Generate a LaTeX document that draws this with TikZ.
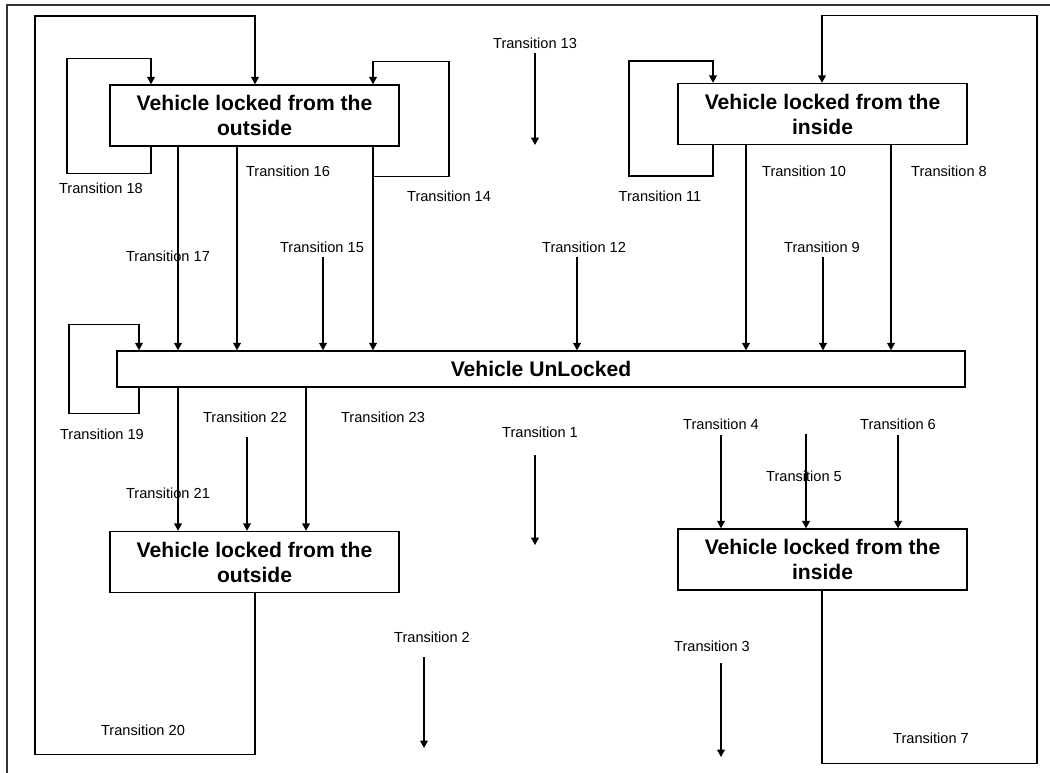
\documentclass[tikz,border=0pt]{standalone}
\usepackage{fontspec}
\setmainfont{Liberation Sans}
\setsansfont{Liberation Sans}
\usetikzlibrary{
  positioning,
  calc,
  arrows.meta}
\definecolor{framecolor}{RGB}{51,51,51}
\tikzset{
  %% state : a state of the vehicle lock
  state/.style={
    rectangle,
    draw=black,
    line width=0.8pt,
    minimum width=5.78cm,
    minimum height=1.22cm,
    inner sep=0pt,
    font=\fontsize{12}{14.2}\selectfont\bfseries,
    align=center
  },
  %% widestate : the unlocked state across the picture
  widestate/.style={
    state,
    minimum width=16.96cm,
    minimum height=0.72cm
  },
  %% trans : the label of a transition
  trans/.style={
    inner sep=1pt,
    font=\fontsize{8.3}{10}\selectfont
  },
  %% connection : a transition line
  connection/.style={
    line width=0.8pt,
    -{Triangle[length=4.2pt,width=4.4pt]}
  },
  %% frame : border of the screenshot
  frame/.style={framecolor, line width=1.3pt}
}

\begin{document}
\begin{tikzpicture}
  [x=0.02cm,
  y=-0.02cm]
  \sffamily
  \useasboundingbox (0,0) rectangle (1050,773);

  %% States
  \node (outside top) [state] at (254.5,115.5) {%
    Vehicle locked from the\\ outside};
  \node (inside top) [state] at (822.5,114) {%
    Vehicle locked from the\\ inside};
  \node (unlocked) [widestate] at (541,369) {%
    Vehicle UnLocked};
  \node (outside bottom) [state] at (254.5,562) {%
    Vehicle locked from the\\ outside};
  \node (inside bottom) [state] at (822.5,559.5) {%
    Vehicle locked from the\\ inside};

  %% Where the lines run
  \coordinate (x7) at (822,0);
  \coordinate (x8) at (891,0);
  \coordinate (x10) at (746,0);
  \coordinate (x11) at (713,0);
  \coordinate (x14) at (373,0);
  \coordinate (x16) at (237,0);
  \coordinate (x17) at (178,0);
  \coordinate (x18) at (151,0);
  \coordinate (x19) at (139,0);
  \coordinate (x20) at (255,0);
  \coordinate (x23) at (306,0);

  %% Free ends
  \coordinate (a1) at (535,455);
  \coordinate (b1) at (535,545);
  \coordinate (a2) at (424,657);
  \coordinate (b2) at (424,748);
  \coordinate (a3) at (721,663);
  \coordinate (b3) at (721,757);
  \coordinate (a4) at (721,435);
  \coordinate (a5) at (806,434);
  \coordinate (a6) at (898,435);
  \coordinate (a9) at (823,257);
  \coordinate (a12) at (577,257);
  \coordinate (a13) at (535,53);
  \coordinate (b13) at (535,145);
  \coordinate (a15) at (323,257);
  \coordinate (a22) at (247,437);

  %% Labels
  \node (t1) [trans] at (540,432) {Transition 1};
  \node (t2) [trans] at (432,637) {Transition 2};
  \node (t3) [trans] at (712,646) {Transition 3};
  \node (t4) [trans] at (721,424) {Transition 4};
  \node (t5) [trans] at (804,476) {Transition 5};
  \node (t6) [trans] at (898,424) {Transition 6};
  \node (t7) [trans] at (931,738) {Transition 7};
  \node (t8) [trans] at (949,171) {Transition 8};
  \node (t9) [trans] at (822,247) {Transition 9};
  \node (t10) [trans] at (804,171) {Transition 10};
  \node (t11) [trans] at (660,196) {Transition 11};
  \node (t12) [trans] at (584,247) {Transition 12};
  \node (t13) [trans] at (535,43) {Transition 13};
  \node (t14) [trans] at (449,196) {Transition 14};
  \node (t15) [trans] at (322,247) {Transition 15};
  \node (t16) [trans] at (288,171) {Transition 16};
  \node (t17) [trans] at (168,256) {Transition 17};
  \node (t18) [trans] at (101,188) {Transition 18};
  \node (t19) [trans] at (102,434) {Transition 19};
  \node (t20) [trans] at (143,730) {Transition 20};
  \node (t21) [trans] at (168,493) {Transition 21};
  \node (t22) [trans] at (245,417) {Transition 22};
  \node (t23) [trans] at (383,417) {Transition 23};

  %% Connections
  \draw [connection] (outside top.south -| x17) -- (unlocked.north -| x17);
  \draw [connection] (outside top.south -| x16) -- (unlocked.north -| x16);
  \draw [connection] (outside top.south -| x14) -- (unlocked.north -| x14);
  \draw [connection] (inside top.south -| x10) -- (unlocked.north -| x10);
  \draw [connection] (inside top.south -| x8) -- (unlocked.north -| x8);
  \draw [connection] (unlocked.south -| x17) -- (outside bottom.north -| x17);
  \draw [connection] (unlocked.south -| x23) -- (outside bottom.north -| x23);

  \draw [connection] (a15) -- (unlocked.north -| a15);
  \draw [connection] (a12) -- (unlocked.north -| a12);
  \draw [connection] (a9) -- (unlocked.north -| a9);
  \draw [connection] (a22) -- (outside bottom.north -| a22);
  \draw [connection] (a4) -- (inside bottom.north -| a4);
  \draw [connection] (a5) -- (inside bottom.north -| a5);
  \draw [connection] (a6) -- (inside bottom.north -| a6);

  \draw [connection] (a13) -- (b13);
  \draw [connection] (a1) -- (b1);
  \draw [connection] (a2) -- (b2);
  \draw [connection] (a3) -- (b3);

  %% Loops
  \draw [connection] (outside top.south -| x18) -- ++(0,27) -- ++(-84,0)
    -- ++(0,-115) -- ++(84,0) -- (outside top.north -| x18);
  \draw [connection] (outside top.south -| x14) -- ++(0,30) -- ++(76,0)
    -- ++(0,-115) -- ++(-76,0) -- (outside top.north -| x14);
  \draw [connection] (inside top.south -| x11) -- ++(0,31) -- ++(-84,0)
    -- ++(0,-115) -- ++(84,0) -- (inside top.north -| x11);
  \draw [connection] (unlocked.south -| x19) -- ++(0,26) -- ++(-70,0)
    -- ++(0,-89) -- ++(70,0) -- (unlocked.north -| x19);
  \draw [connection] (outside bottom.south -| x20) -- ++(0,161) -- ++(-220,0)
    -- ++(0,-738) -- ++(220,0) -- (outside top.north -| x20);
  \draw [connection] (inside bottom.south -| x7) -- ++(0,173) -- ++(215,0)
    -- ++(0,-748) -- ++(-215,0) -- (inside top.north -| x7);

  %% Border
  \draw [frame] (7,773) -- (7,5) -- (1050,5);

\end{tikzpicture}
\end{document}
